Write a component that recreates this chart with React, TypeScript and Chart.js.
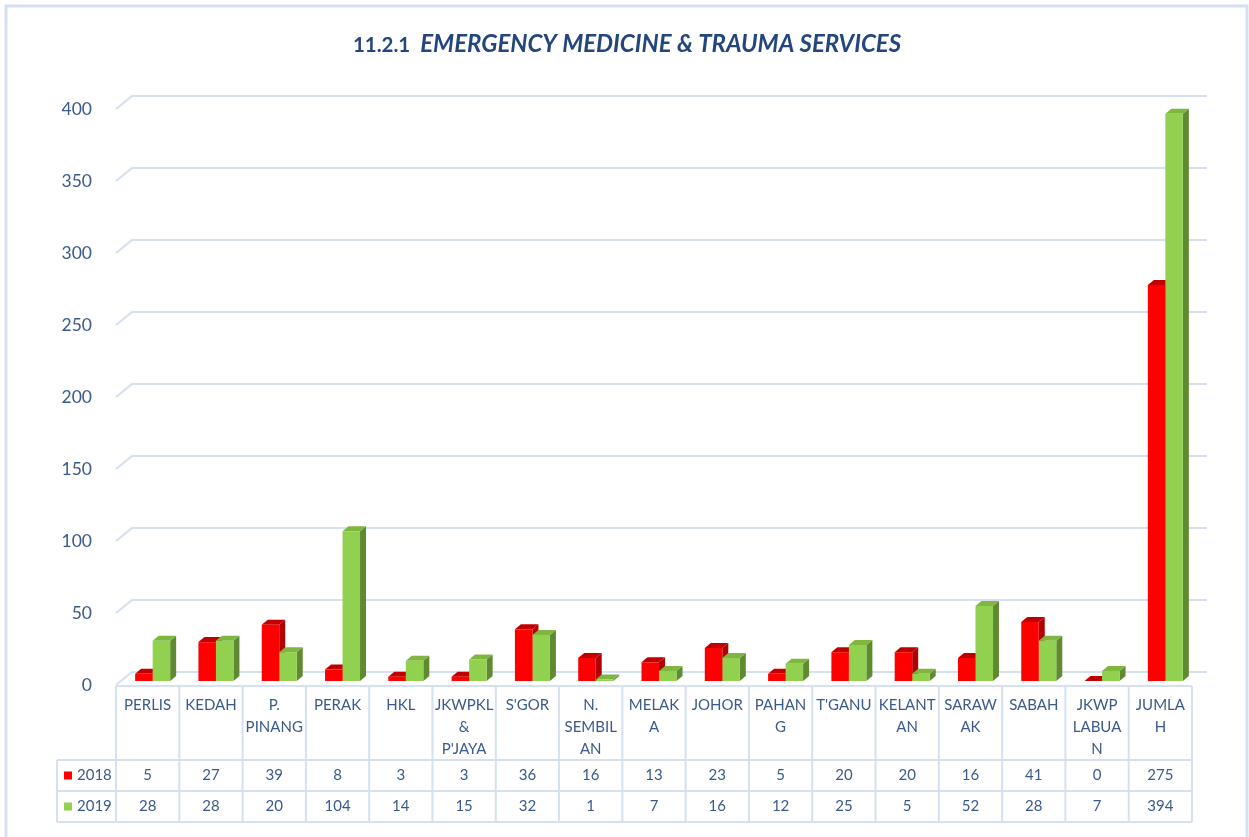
import React, { useEffect, useRef } from "react";
import { Chart, registerables } from "chart.js";

Chart.register(...registerables);

const titleNumber = "11.2.1";
const titleText = "EMERGENCY MEDICINE & TRAUMA SERVICES";

const categories = [
  "PERLIS", "KEDAH", "P. PINANG", "PERAK", "HKL", "JKWPKL & P'JAYA", "S'GOR",
  "N. SEMBILAN", "MELAKA", "JOHOR", "PAHANG", "T'GANU", "KELANTAN", "SARAWAK",
  "SABAH", "JKWP LABUAN", "JUMLAH",
];
const categoryLines = [
  ["PERLIS"], ["KEDAH"], ["P.", "PINANG"], ["PERAK"], ["HKL"], ["JKWPKL", "&", "P'JAYA"],
  ["S'GOR"], ["N.", "SEMBIL", "AN"], ["MELAK", "A"], ["JOHOR"], ["PAHAN", "G"], ["T'GANU"],
  ["KELANT", "AN"], ["SARAW", "AK"], ["SABAH"], ["JKWP", "LABUA", "N"], ["JUMLA", "H"],
];
const seriesNames = ["2018", "2019"];
const values2018 = [5, 27, 39, 8, 3, 3, 36, 16, 13, 23, 5, 20, 20, 16, 41, 0, 275];
const values2019 = [28, 28, 20, 104, 14, 15, 32, 1, 7, 16, 12, 25, 5, 52, 28, 7, 394];
const yTickValues = [0, 50, 100, 150, 200, 250, 300, 350, 400];

const FONT = "Lato, 'Open Sans', sans-serif";
const TEXT = "#3a5a8c";
const TITLE = "#24467e";
const LINE = "#d5e0f1";
const frontColors = ["#ff0000", "#92d050"];
const topColors = ["#c00000", "#7fb640"];
const sideColors = ["#b00000", "#5f8a32"];
const DEPTH_X = 6;
const DEPTH_Y = 5;

const decorPlugin = {
  id: "decor",
  beforeDraw(chart: any) {
    const ctx = chart.ctx;
    ctx.save();
    ctx.fillStyle = "#ffffff";
    ctx.fillRect(0, 0, chart.width, chart.height);
    ctx.strokeStyle = LINE;
    ctx.lineWidth = 3;
    ctx.strokeRect(6, 6, chart.width - 8, chart.height + 10);
    // title
    const f1 = `bold 20.5px ${FONT}`;
    const f2 = `italic bold 24px ${FONT}`;
    ctx.font = f1;
    const w1 = ctx.measureText(titleNumber + "  ").width;
    ctx.font = f2;
    const w2 = ctx.measureText(titleText).width;
    let x = 627 - (w1 + w2) / 2;
    ctx.fillStyle = TITLE;
    ctx.textBaseline = "alphabetic";
    ctx.textAlign = "left";
    ctx.font = f1;
    ctx.fillText(titleNumber, x, 52);
    ctx.font = f2;
    ctx.fillText(titleText, x + w1, 52);
    ctx.restore();
  },
  beforeDatasetsDraw(chart: any) {
    const ctx = chart.ctx;
    const { left, right } = chart.chartArea;
    const y = chart.scales.y;
    ctx.save();
    ctx.strokeStyle = LINE;
    ctx.lineWidth = 2;
    yTickValues.forEach((v) => {
      const py = y.getPixelForValue(v);
      ctx.beginPath();
      ctx.moveTo(left, py);
      ctx.lineTo(left + 16, py - 13);
      ctx.lineTo(right + 15, py - 13);
      ctx.stroke();
    });
    ctx.restore();
    ctx.save();
    ctx.translate(5, -4);
    chart.data.datasets.forEach((_: any, di: number) => {
      const meta = chart.getDatasetMeta(di);
      meta.data.forEach((bar: any) => {
        const l = bar.x - bar.width / 2;
        const r = bar.x + bar.width / 2;
        const t = bar.y;
        const b = bar.base;
        ctx.fillStyle = sideColors[di];
        ctx.beginPath();
        ctx.moveTo(r, t);
        ctx.lineTo(r + DEPTH_X, t - DEPTH_Y);
        ctx.lineTo(r + DEPTH_X, b - DEPTH_Y);
        ctx.lineTo(r, b);
        ctx.closePath();
        ctx.fill();
        ctx.fillStyle = topColors[di];
        ctx.beginPath();
        ctx.moveTo(l, t);
        ctx.lineTo(r, t);
        ctx.lineTo(r + DEPTH_X, t - DEPTH_Y);
        ctx.lineTo(l + DEPTH_X, t - DEPTH_Y);
        ctx.closePath();
        ctx.fill();
      });
    });
  },
  afterDatasetsDraw(chart: any) {
    chart.ctx.restore();
  },
  afterDraw(chart: any) {
    const ctx = chart.ctx;
    const { left, right, bottom } = chart.chartArea;
    const xs = chart.scales.x;
    const n = categories.length;
    const colW = (right - left) / n;
    const legendLeft = 57;
    const rowTop = 760;
    const rowH = 31;
    ctx.save();
    ctx.strokeStyle = LINE;
    ctx.lineWidth = 2;
    ctx.beginPath();
    ctx.moveTo(left, bottom + 1);
    ctx.lineTo(right, bottom + 1);
    for (let r = 0; r <= 2; r++) {
      ctx.moveTo(legendLeft, rowTop + r * rowH);
      ctx.lineTo(right, rowTop + r * rowH);
    }
    for (let i = 0; i <= n; i++) {
      const px = left + i * colW;
      ctx.moveTo(px, bottom + 1);
      ctx.lineTo(px, rowTop + 2 * rowH);
    }
    ctx.moveTo(legendLeft, rowTop);
    ctx.lineTo(legendLeft, rowTop + 2 * rowH);
    ctx.stroke();

    const rows = [values2018, values2019];
    ctx.font = `15px ${FONT}`;
    ctx.textBaseline = "middle";
    rows.forEach((vals, ri) => {
      const cy = rowTop + ri * rowH + rowH / 2;
      ctx.fillStyle = frontColors[ri];
      ctx.fillRect(64, cy - 4, 8, 8);
      ctx.fillStyle = TEXT;
      ctx.textAlign = "left";
      ctx.fillText(seriesNames[ri], 77, cy);
      ctx.textAlign = "center";
      vals.forEach((v, i) => {
        ctx.fillText(String(v), xs.getPixelForValue(i), cy);
      });
    });
    ctx.restore();
  },
};

export default function App() {
  const ref = useRef<HTMLCanvasElement | null>(null);
  useEffect(() => {
    document.body.style.margin = "0";
    const canvas = ref.current;
    if (!canvas) return;
    const chart = new Chart(canvas, {
      type: "bar",
      data: {
        labels: categoryLines as any,
        datasets: [
          {
            label: seriesNames[0],
            data: values2018,
            backgroundColor: frontColors[0],
            borderWidth: 0,
            categoryPercentage: 0.553,
            barPercentage: 1,
          },
          {
            label: seriesNames[1],
            data: values2019,
            backgroundColor: frontColors[1],
            borderWidth: 0,
            categoryPercentage: 0.553,
            barPercentage: 1,
          },
        ],
      },
      options: {
        responsive: false,
        animation: false,
        layout: { padding: { left: 0, right: 57, top: 109, bottom: 15 } },
        plugins: {
          legend: { display: false },
          tooltip: { enabled: false },
          title: { display: false },
        },
        scales: {
          x: {
            grid: { display: false, drawTicks: false },
            border: { display: false },
            ticks: {
              autoSkip: false,
              maxRotation: 0,
              minRotation: 0,
              color: TEXT,
              padding: 9,
              font: { family: FONT, size: 15, lineHeight: 22 / 15 },
            },
            afterFit: (s: any) => {
              s.height = 137;
            },
          },
          y: {
            min: 0,
            max: 400,
            grid: { display: false },
            border: { display: false },
            ticks: {
              stepSize: 50,
              color: TEXT,
              padding: 16,
              font: { family: FONT, size: 17.5 },
            },
            afterFit: (s: any) => {
              s.width = 116;
            },
          },
        },
      },
      plugins: [decorPlugin],
    } as any);
    return () => chart.destroy();
  }, []);
  return (
    <div style={{ width: 1249, height: 837 }}>
      <canvas ref={ref} width={1249} height={837} style={{ display: "block" }} />
    </div>
  );
}
